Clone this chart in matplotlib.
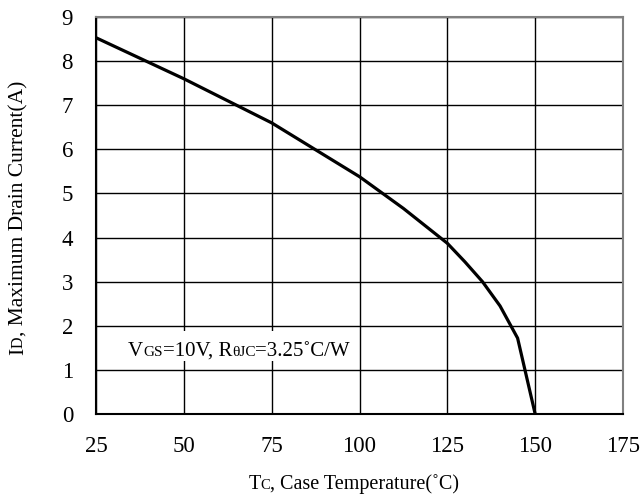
import matplotlib
matplotlib.use("Agg")
import matplotlib.pyplot as plt
from matplotlib.transforms import IdentityTransform

temp_c = [25, 50, 75, 100, 112.5, 125, 130, 135, 140, 145, 150]
drain_a = [8.53, 7.6, 6.6, 5.38, 4.66, 3.87, 3.45, 3.0, 2.45, 1.72, 0.0]
x_ticks = [25, 50, 75, 100, 125, 150, 175]
y_ticks = [0, 1, 2, 3, 4, 5, 6, 7, 8, 9]

FAM = ['Liberation Serif', 'DejaVu Serif']
TICK_FS = 16.5

fig = plt.figure(figsize=(6.4, 4.95), dpi=100)
ax = fig.add_axes([96/640, 1-414/495, (623-96)/640, (414-17)/495])
ax.set_xlim(25, 175)
ax.set_ylim(0, 9)
ax.set_xticks(x_ticks)
ax.set_yticks(y_ticks)
ax.grid(True, color='black', linewidth=1.0)
ax.set_axisbelow(True)
ax.tick_params(length=0, labelsize=TICK_FS)
ax.tick_params(axis='x', pad=16)
ax.tick_params(axis='y', pad=16.5)
for lab in ax.get_xticklabels() + ax.get_yticklabels():
    lab.set_family(FAM)
for s in ['left', 'bottom']:
    ax.spines[s].set_color('black')
    ax.spines[s].set_linewidth(1.5)
for s in ['top', 'right']:
    ax.spines[s].set_color('#808080')
    ax.spines[s].set_linewidth(1.5)

ax.plot(temp_c, drain_a, color='black', linewidth=2.3, solid_joinstyle='miter')

renderer = fig.canvas.get_renderer()


def rich(parts, x, y, rotation=0, anchor='center'):
    """parts: list of (text, size). x,y in display pixels."""
    texts = []
    sizes = []
    for t, s in parts:
        tx = fig.text(0, 0, t, fontsize=s, family=FAM, transform=IdentityTransform(),
                      rotation=rotation, ha='left', va='baseline',
                      rotation_mode='anchor', zorder=3)
        texts.append(tx)
        ext = tx.get_window_extent(renderer)
        sizes.append(ext.height if rotation == 90 else ext.width)
    total = sum(sizes)
    pos = -total / 2 if anchor == 'center' else 0
    for tx, w in zip(texts, sizes):
        if rotation == 90:
            tx.set_position((x, y + pos))
        else:
            tx.set_position((x + pos, y))
        pos += w
    return texts


# x label
rich([("T", 14.5), ("C", 10.5), (", Case Temperature(˚C)", 14.5)], 354, 495 - 489)
# y label
rich([("I", 15.5), ("D", 11.5), (", Maximum Drain Current(A)", 15.5)], 23, 495 - 218, rotation=90)

# annotation with white background
bx0, by0 = ax.transData.inverted().transform((118, 495 - 361))
bx1, by1 = ax.transData.inverted().transform((356, 495 - 331))
ax.add_patch(plt.Rectangle((bx0, by0), bx1 - bx0, by1 - by0, facecolor='white',
                           edgecolor='none', zorder=1.5))
rich([("V", 15), ("GS", 11), ("=10V, R", 15), ("θJC", 11), ("=3.25˚C/W", 15)],
     128, 495 - 356, anchor='left')

fig.savefig("out.png", dpi=100)
